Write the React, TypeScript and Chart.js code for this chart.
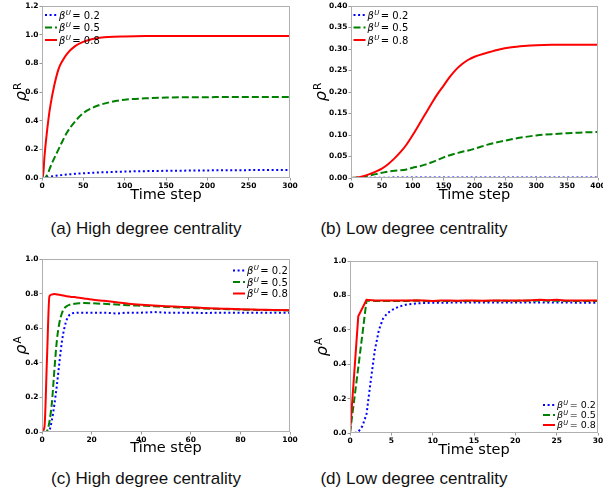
import React, { useEffect, useRef } from 'react';
import { Chart, registerables } from 'chart.js';
Chart.register(...registerables);

// ---------- data ----------
const betaLabels = ['0.2', '0.5', '0.8'];
const xTitle = 'Time step';
const captions = [
  '(a) High degree centrality',
  '(b) Low degree centrality',
  '(c) High degree centrality',
  '(d) Low degree centrality',
];

// (a) rho^R, high degree centrality
const aTime = [0, 1, 3, 5, 8, 10, 15, 20, 25, 30, 40, 50, 60, 70, 80, 100, 125, 150, 200, 250, 300];
const aBeta02 = [0, 0, 0.002, 0.005, 0.008, 0.01, 0.014, 0.018, 0.021, 0.024, 0.029, 0.033, 0.036, 0.039, 0.041, 0.045, 0.048, 0.05, 0.053, 0.055, 0.056];
const aBeta05 = [0, 0, 0, 0.01, 0.045, 0.075, 0.14, 0.2, 0.26, 0.315, 0.395, 0.453, 0.487, 0.51, 0.526, 0.546, 0.556, 0.561, 0.564, 0.565, 0.565];
const aBeta08 = [0, 0, 0.15, 0.27, 0.42, 0.5, 0.65, 0.76, 0.82, 0.865, 0.92, 0.95, 0.968, 0.978, 0.984, 0.988, 0.99, 0.99, 0.99, 0.99, 0.99];

// (b) rho^R, low degree centrality
const bTime = [0, 10, 20, 30, 40, 50, 60, 70, 80, 90, 100, 110, 120, 130, 140, 150, 160, 170, 180, 190, 200, 220, 240, 260, 280, 300, 325, 350, 375, 400];
const bBeta02 = [0, 0.0003, 0.0005, 0.0006, 0.0007, 0.0008, 0.0008, 0.0009, 0.0009, 0.0009, 0.001, 0.001, 0.001, 0.001, 0.001, 0.001, 0.001, 0.001, 0.001, 0.001, 0.001, 0.001, 0.001, 0.001, 0.001, 0.001, 0.001, 0.001, 0.001, 0.001];
const bBeta05 = [0, 0.001, 0.003, 0.006, 0.009, 0.012, 0.015, 0.017, 0.018, 0.02, 0.024, 0.027, 0.031, 0.036, 0.042, 0.048, 0.053, 0.057, 0.061, 0.064, 0.068, 0.077, 0.084, 0.09, 0.095, 0.099, 0.102, 0.104, 0.106, 0.107];
const bBeta08 = [0, 0.001, 0.004, 0.009, 0.015, 0.022, 0.032, 0.045, 0.06, 0.078, 0.1, 0.124, 0.148, 0.172, 0.195, 0.215, 0.235, 0.252, 0.265, 0.275, 0.282, 0.291, 0.299, 0.304, 0.307, 0.309, 0.31, 0.31, 0.31, 0.31];

// (c) rho^A, high degree centrality
const cTime = [0, 1, 2, 3, 4, 5, 6, 7, 8, 9, 10, 11, 12, 13, 14, 15, 17, 20, 25, 30, 35, 40, 45, 50, 55, 60, 65, 70, 75, 80, 85, 90, 95, 100];
const cBeta02 = [0, 0, 0, 0.01, 0.07, 0.16, 0.27, 0.4, 0.52, 0.6, 0.65, 0.675, 0.685, 0.688, 0.689, 0.69, 0.69, 0.69, 0.69, 0.685, 0.69, 0.69, 0.693, 0.69, 0.69, 0.69, 0.688, 0.689, 0.69, 0.689, 0.69, 0.689, 0.689, 0.689];
const cBeta05 = [0, 0, 0.005, 0.06, 0.17, 0.36, 0.53, 0.63, 0.685, 0.715, 0.728, 0.735, 0.739, 0.741, 0.743, 0.744, 0.745, 0.744, 0.741, 0.737, 0.733, 0.73, 0.727, 0.723, 0.72, 0.717, 0.714, 0.712, 0.71, 0.708, 0.706, 0.705, 0.704, 0.703];
const cBeta08 = [0, 0.03, 0.42, 0.785, 0.795, 0.797, 0.795, 0.793, 0.79, 0.788, 0.785, 0.783, 0.781, 0.78, 0.778, 0.776, 0.772, 0.766, 0.758, 0.75, 0.742, 0.736, 0.731, 0.727, 0.724, 0.721, 0.717, 0.714, 0.712, 0.71, 0.708, 0.706, 0.705, 0.704];

// (d) rho^A, low degree centrality
const dTimeFine = [0, 0.5, 1, 1.5, 2, 2.5, 3, 3.5, 4, 4.5, 5, 5.5, 6, 6.5, 7, 8, 9, 10, 12, 14, 16, 18, 20, 22, 24, 26, 28, 30];
const dBeta02 = [0, 0, 0.006, 0.04, 0.11, 0.3, 0.48, 0.6, 0.665, 0.695, 0.713, 0.726, 0.736, 0.743, 0.748, 0.753, 0.756, 0.757, 0.758, 0.759, 0.758, 0.759, 0.758, 0.759, 0.758, 0.759, 0.757, 0.757];
const dTime = [0, 1, 2, 3, 4, 5, 6, 7, 8, 9, 10, 11, 12, 13, 14, 15, 16, 17, 18, 19, 20, 21, 22, 23, 24, 25, 26, 27, 28, 29, 30];
const dBeta05 = [0, 0.38, 0.77, 0.768, 0.768, 0.767, 0.768, 0.768, 0.769, 0.768, 0.767, 0.768, 0.768, 0.767, 0.768, 0.768, 0.767, 0.768, 0.769, 0.768, 0.768, 0.769, 0.768, 0.77, 0.769, 0.77, 0.768, 0.768, 0.767, 0.768, 0.768];
const dBeta08 = [0, 0.678, 0.775, 0.77, 0.771, 0.77, 0.77, 0.771, 0.772, 0.77, 0.768, 0.771, 0.77, 0.769, 0.77, 0.77, 0.769, 0.77, 0.771, 0.77, 0.77, 0.771, 0.772, 0.774, 0.772, 0.775, 0.77, 0.77, 0.77, 0.771, 0.77];

// ---------- styles ----------
const seriesStyles = [
  { color: '#0000ff', dash: [2, 2.6] },
  { color: '#008000', dash: [7, 3] },
  { color: '#ff0000', dash: [] as number[] },
];

type PanelCfg = {
  left: number; top: number; width: number; height: number;
  area: { l: number; r: number; t: number; b: number };
  xMax: number; xStep: number; yMax: number; yStep: number; yDec: number;
  sup: string; yTitleX: number; titlePad: number;
  legend: { x: number; ys: number[]; size: number };
  series: [number[], number[]][];
  smooth: boolean;
  caption: string; capX: number; capY: number;
};

const panels: PanelCfg[] = [
  {
    left: 0, top: 0, width: 300, height: 215, area: { l: 42, r: 290, t: 6, b: 178 },
    xMax: 300, xStep: 50, yMax: 1.2, yStep: 0.2, yDec: 1, sup: 'R', yTitleX: 26, titlePad: 10.6,
    legend: { x: 3, ys: [9, 21.5, 34], size: 10 },
    series: [[aTime, aBeta02], [aTime, aBeta05], [aTime, aBeta08]], smooth: true,
    caption: captions[0], capX: 146, capY: 229,
  },
  {
    left: 300, top: 0, width: 303, height: 215, area: { l: 51, r: 298, t: 6, b: 178 },
    xMax: 400, xStep: 50, yMax: 0.4, yStep: 0.05, yDec: 2, sup: 'R', yTitleX: 26, titlePad: 10.6,
    legend: { x: 2.5, ys: [9, 21.5, 34], size: 10 },
    series: [[bTime, bBeta02], [bTime, bBeta05], [bTime, bBeta08]], smooth: true,
    caption: captions[1], capX: 414, capY: 229,
  },
  {
    left: 0, top: 250, width: 300, height: 215, area: { l: 42, r: 290, t: 9, b: 182 },
    xMax: 100, xStep: 20, yMax: 1.0, yStep: 0.2, yDec: 1, sup: 'A', yTitleX: 25.5, titlePad: 7.6,
    legend: { x: 191, ys: [11.5, 23, 34.5], size: 10 },
    series: [[cTime, cBeta02], [cTime, cBeta05], [cTime, cBeta08]], smooth: true,
    caption: captions[2], capX: 146, capY: 479,
  },
  {
    left: 300, top: 250, width: 303, height: 215, area: { l: 50, r: 298, t: 11, b: 183 },
    xMax: 30, xStep: 5, yMax: 1.0, yStep: 0.2, yDec: 1, sup: 'A', yTitleX: 26.5, titlePad: 5.8,
    legend: { x: 193, ys: [144, 154, 164], size: 9.5 },
    series: [[dTimeFine, dBeta02], [dTime, dBeta05], [dTime, dBeta08]], smooth: false,
    caption: captions[3], capX: 414, capY: 479,
  },
];

const decorPlugin = {
  id: 'mplDecor',
  afterDraw(chart: any, _args: any, opts: any) {
    const { ctx, chartArea: ca } = chart;
    ctx.save();
    // frame
    ctx.strokeStyle = '#b0b0b0';
    ctx.lineWidth = 1;
    ctx.setLineDash([]);
    ctx.strokeRect(ca.left + 0.5, ca.top + 0.5, ca.right - ca.left - 1, ca.bottom - ca.top - 1);

    // y title with superscript
    ctx.save();
    ctx.fillStyle = '#000';
    ctx.textBaseline = 'alphabetic';
    ctx.font = 'italic 16px "DejaVu Sans"';
    const wRho = ctx.measureText('ρ').width;
    ctx.font = '10.5px "DejaVu Sans"';
    const wSup = ctx.measureText(opts.sup).width;
    const total = wRho + 1 + wSup;
    const cy = (ca.top + ca.bottom) / 2;
    ctx.translate(opts.yTitleX, cy);
    ctx.rotate(-Math.PI / 2);
    ctx.font = 'italic 16px "DejaVu Sans"';
    ctx.fillText('ρ', -total / 2, 0);
    ctx.font = '10.5px "DejaVu Sans"';
    ctx.fillText(opts.sup, -total / 2 + wRho + 1, -5);
    ctx.restore();

    // legend
    const lg = opts.legend;
    const fs = lg.size;
    opts.labels.forEach((label: string, i: number) => {
      const st = seriesStyles[i];
      const x = ca.left + lg.x;
      const y = ca.top + lg.ys[i];
      ctx.save();
      ctx.strokeStyle = st.color;
      ctx.lineWidth = 2;
      ctx.setLineDash(st.dash);
      ctx.beginPath();
      ctx.moveTo(x, y);
      ctx.lineTo(x + 12, y);
      ctx.stroke();
      ctx.setLineDash([]);
      ctx.fillStyle = '#000';
      ctx.textBaseline = 'alphabetic';
      const base = y + fs * 0.36;
      let tx = x + 14;
      ctx.font = `italic ${fs}px "DejaVu Sans"`;
      ctx.fillText('β', tx, base);
      tx += ctx.measureText('β').width + 0.3;
      ctx.font = `italic ${fs * 0.7}px "DejaVu Sans"`;
      ctx.fillText('U', tx, base - fs * 0.4);
      tx += ctx.measureText('U').width + 1.5;
      ctx.font = `${fs}px "DejaVu Sans"`;
      ctx.fillText('= ' + label, tx, base);
      ctx.restore();
    });
    ctx.restore();
  },
};

function Panel({ cfg }: { cfg: PanelCfg }) {
  const ref = useRef<HTMLCanvasElement | null>(null);
  useEffect(() => {
    if (!ref.current) return;
    const tickFont = { family: 'DejaVu Sans', size: 7.5, weight: 'bold' as const };
    const datasets = cfg.series.map(([xs, ys], i) => ({
      label: betaLabels[i],
      data: xs.map((x, j) => ({ x, y: ys[j] })),
      borderColor: seriesStyles[i].color,
      borderDash: seriesStyles[i].dash,
      borderWidth: 2,
      pointRadius: 0,
      fill: false,
      order: 2 - i,
      cubicInterpolationMode: cfg.smooth ? ('monotone' as const) : ('default' as const),
      tension: 0,
    }));
    const chart = new Chart(ref.current, {
      type: 'line',
      data: { datasets },
      plugins: [decorPlugin],
      options: {
        animation: false,
        responsive: false,
        devicePixelRatio: 1,
        layout: { padding: { left: 0, top: cfg.area.t, right: cfg.width - cfg.area.r, bottom: 0 } },
        plugins: {
          legend: { display: false },
          tooltip: { enabled: false },
          mplDecor: { sup: cfg.sup, yTitleX: cfg.yTitleX, legend: cfg.legend, labels: betaLabels },
        } as any,
        scales: {
          x: {
            type: 'linear',
            min: 0,
            max: cfg.xMax,
            afterFit: (s: any) => { s.height = cfg.height - cfg.area.b; s.paddingLeft = 0; s.paddingRight = 0; },
            ticks: {
              stepSize: cfg.xStep, autoSkip: false, maxRotation: 0, minRotation: 0,
              font: tickFont, color: '#000', padding: 1,
              callback: (v: any) => String(Math.round(Number(v))),
            },
            grid: { display: true, drawOnChartArea: false, drawTicks: true, tickLength: 2.5, color: '#999' },
            border: { display: false },
            title: {
              display: true, text: xTitle, color: '#000',
              font: { family: 'DejaVu Sans', size: 14.5 },
              padding: { top: 0, bottom: cfg.titlePad },
            },
          },
          y: {
            type: 'linear',
            min: 0,
            max: cfg.yMax,
            afterFit: (s: any) => { s.width = cfg.area.l; s.paddingTop = 0; s.paddingBottom = 0; },
            ticks: {
              stepSize: cfg.yStep, autoSkip: false,
              font: tickFont, color: '#000', padding: 1,
              callback: (v: any) => Number(v).toFixed(cfg.yDec),
            },
            grid: { display: true, drawOnChartArea: false, drawTicks: true, tickLength: 2.5, color: '#999' },
            border: { display: false },
          },
        },
      } as any,
    });
    return () => chart.destroy();
  }, [cfg]);
  return (
    <>
      <canvas
        ref={ref}
        width={cfg.width}
        height={cfg.height}
        style={{ position: 'absolute', left: cfg.left, top: cfg.top, width: cfg.width, height: cfg.height }}
      />
      <div
        style={{
          position: 'absolute', left: cfg.capX - 150, top: cfg.capY - 10, width: 300, height: 20,
          lineHeight: '20px', textAlign: 'center', fontFamily: '"Liberation Sans", Arial, sans-serif',
          fontSize: 17, color: '#111', whiteSpace: 'nowrap',
        }}
      >
        {cfg.caption}
      </div>
    </>
  );
}

export default function App() {
  return (
    <div style={{ position: 'absolute', left: 0, top: 0, width: 603, height: 495, background: '#fff', overflow: 'hidden' }}>
      {panels.map((p, i) => (
        <Panel key={i} cfg={p} />
      ))}
    </div>
  );
}
